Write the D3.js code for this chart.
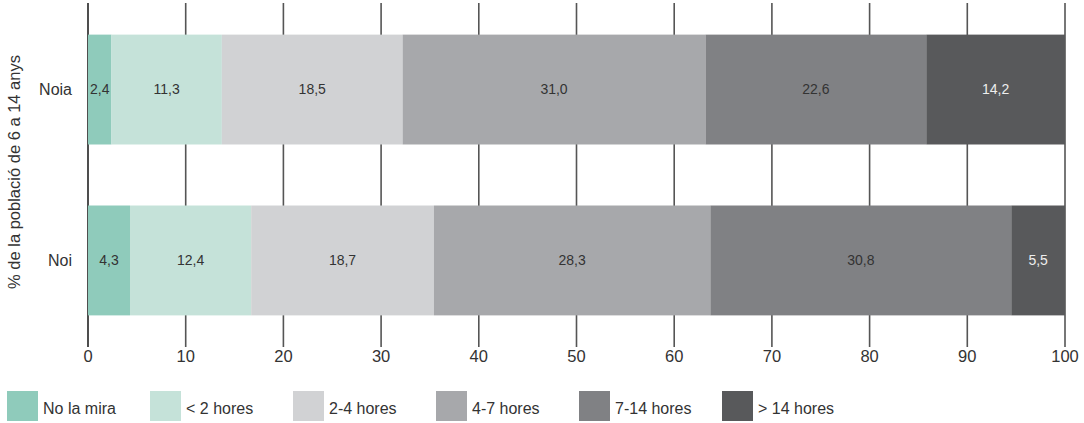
<!DOCTYPE html>
<html><head><meta charset="utf-8">
<script src="https://cdn.jsdelivr.net/npm/d3@7"></script>
<style>body{margin:0;background:#fff}svg{display:block}text{font-family:"Liberation Sans",Arial,sans-serif;}</style>
</head><body><svg id="c" width="1084" height="423"></svg>
<script>
const groups = ["Noia", "Noi"];
const seriesNames = ["No la mira", "< 2 hores", "2-4 hores", "4-7 hores", "7-14 hores", "> 14 hores"];
const noiaValues = [2.4, 11.3, 18.5, 31.0, 22.6, 14.2];
const noiValues = [4.3, 12.4, 18.7, 28.3, 30.8, 5.5];
const xTicks = [0, 10, 20, 30, 40, 50, 60, 70, 80, 90, 100];
const colors = ["#8fcbbb", "#c5e2d9", "#d1d2d4", "#a7a8ab", "#808184", "#58595b"];
const labelColors = ["#333", "#333", "#333", "#333", "#333", "#eee"];
const yTitle = "% de la població de 6 a 14 anys";

const values = {Noia: noiaValues, Noi: noiValues};
const svg = d3.select("#c");
const x = d3.scaleLinear().domain([0, 100]).range([88, 1065]);
const y = d3.scaleBand().domain(groups).range([3, 347]).paddingInner(0.357).paddingOuter(0.185);

// gridlines
svg.append("g").selectAll("line").data(xTicks).join("line")
  .attr("x1", d => x(d)).attr("x2", d => x(d)).attr("y1", 3).attr("y2", 347)
  .attr("stroke", d => d === 0 ? "#222" : "#555").attr("stroke-width", 1.6);

// tick labels
svg.append("g").selectAll("text").data(xTicks).join("text")
  .attr("x", d => x(d)).attr("y", 362).attr("text-anchor", "middle")
  .attr("font-size", 16.5).attr("fill", "#333").text(d => d);

// bars
groups.forEach(g => {
  let cum = 0;
  const segs = values[g].map((v, i) => { const s = {i, v, x0: cum, x1: cum + v}; cum += v; return s; });
  const gg = svg.append("g");
  gg.selectAll("rect").data(segs).join("rect")
    .attr("x", d => x(d.x0)).attr("width", d => x(d.x1) - x(d.x0))
    .attr("y", y(g)).attr("height", y.bandwidth()).attr("fill", d => colors[d.i]);
  gg.selectAll("text").data(segs).join("text")
    .attr("x", d => (x(d.x0) + x(d.x1)) / 2).attr("y", y(g) + y.bandwidth() / 2)
    .attr("dy", "0.35em").attr("text-anchor", "middle").attr("font-size", 14)
    .attr("fill", d => labelColors[d.i]).text(d => d3.format(".1f")(d.v).replace(".", ","));
  svg.append("text").attr("x", 72).attr("y", y(g) + y.bandwidth() / 2).attr("dy", "0.35em")
    .attr("text-anchor", "end").attr("font-size", 16).attr("fill", "#333").text(g);
});

// y title
svg.append("text").attr("transform", "translate(20,172) rotate(-90)").attr("text-anchor", "middle")
  .attr("font-size", 16.5).attr("fill", "#333").text(yTitle);

// legend
const lg = svg.append("g").selectAll("g").data(seriesNames).join("g")
  .attr("transform", (d, i) => `translate(${7 + i * 143},391)`);
lg.append("rect").attr("width", 31).attr("height", 30).attr("fill", (d, i) => colors[i]);
lg.append("text").attr("x", 36).attr("y", 17).attr("dy", "0.35em").attr("font-size", 16)
  .attr("fill", "#333").text(d => d);
</script></body></html>
